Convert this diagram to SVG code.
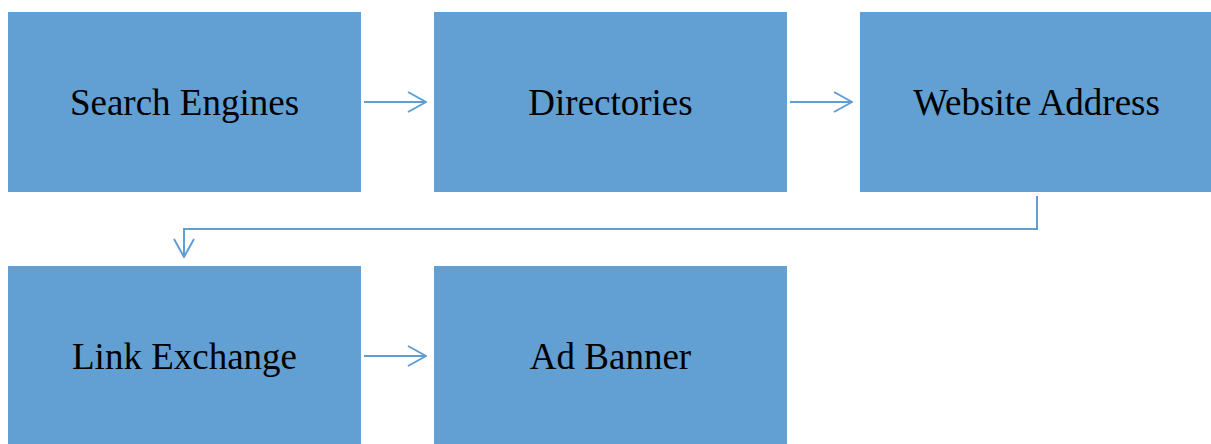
<svg xmlns="http://www.w3.org/2000/svg" width="1211" height="444" viewBox="0 0 1211 444">
<style>
.box{fill:#629FD2;}
.lbl{font-family:"Liberation Serif","Times New Roman",serif;font-size:37px;fill:#000;text-anchor:middle;dominant-baseline:central;}
.con{fill:none;stroke:#5F9DD3;stroke-width:2;}
</style>
<defs>
<marker id="arr" viewBox="0 0 20 22" refX="19" refY="11" markerWidth="20" markerHeight="22" markerUnits="userSpaceOnUse" orient="auto">
<path d="M1,1 L19,11 L1,21" fill="none" stroke="#5F9DD3" stroke-width="2"/>
</marker>
</defs>
<g id="n1"><rect class="box" x="8" y="12" width="353" height="180"/><text class="lbl" x="184.5" y="102">Search Engines</text></g>
<g id="n2"><rect class="box" x="434" y="12" width="353" height="180"/><text class="lbl" x="610.5" y="102">Directories</text></g>
<g id="n3"><rect class="box" x="860" y="12" width="353" height="180"/><text class="lbl" x="1036.5" y="102">Website Address</text></g>
<g id="n4"><rect class="box" x="8" y="266" width="353" height="180"/><text class="lbl" x="184.5" y="356">Link Exchange</text></g>
<g id="n5"><rect class="box" x="434" y="266" width="353" height="180"/><text class="lbl" x="610.5" y="356">Ad Banner</text></g>
<g id="connectors">
<path class="con" d="M364,102 H426" marker-end="url(#arr)"/>
<path class="con" d="M790,102 H852" marker-end="url(#arr)"/>
<path class="con" d="M1037,196 V229 H184 V257" marker-end="url(#arr)"/>
<path class="con" d="M364,356 H426" marker-end="url(#arr)"/>
</g>
</svg>
